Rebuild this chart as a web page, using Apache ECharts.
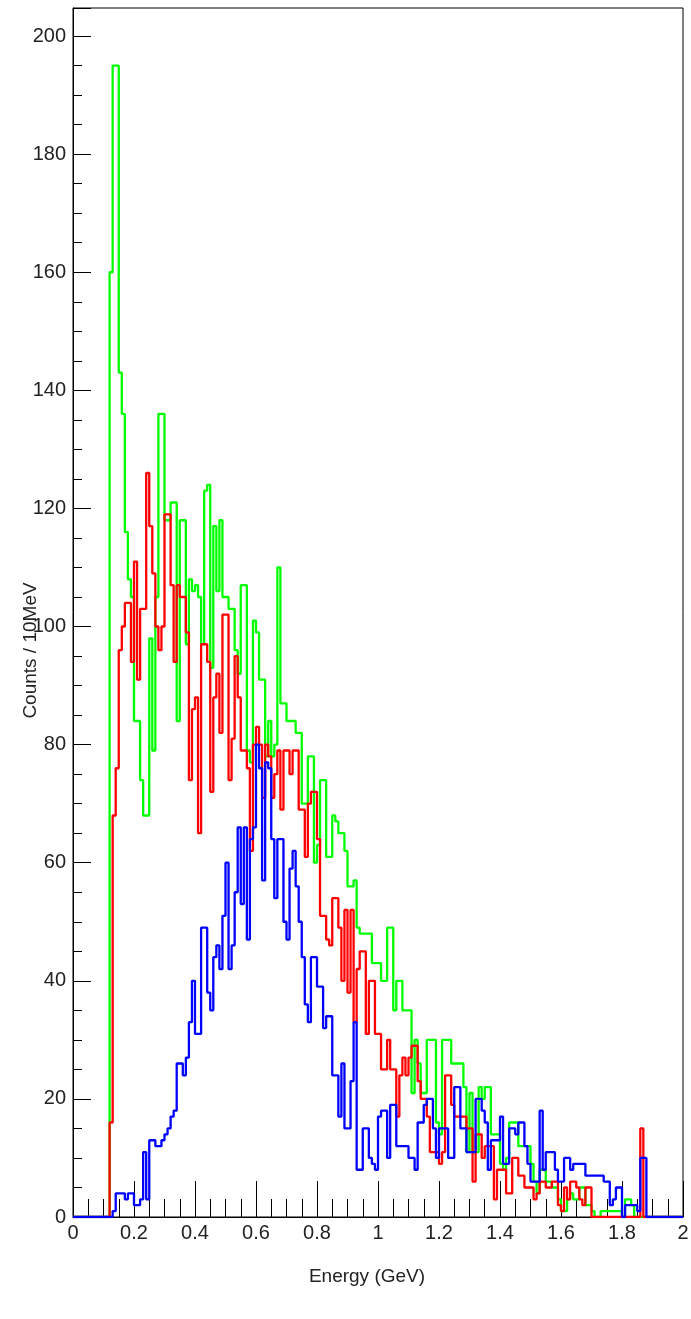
<!DOCTYPE html>
<html lang="en">
<head>
<meta charset="utf-8">
<title>energy</title>
<script src="https://cdn.jsdelivr.net/npm/echarts@6/dist/echarts.min.js"></script>
<style>
html,body{margin:0;padding:0;background:#fff;}
#chart{width:691px;height:1319px;}
</style>
</head>
<body>
<div id="chart"></div>
<script>
// 200 bins of 10 MeV from 0 to 2 GeV
var binWidth = 0.01;

var green = [
    0,0,0,0,0,0,0,0,0,0,0,0,
    160,195,195,143,136,116,108,105,
    84,84,74,68,68,98,79,105,136,136,
    118,118,121,121,84,118,118,97,108,106,
    107,105,97,123,124,93,117,106,118,105,
    105,103,103,96,92,107,107,79,77,101,
    99,91,91,78,84,78,80,110,87,87,
    84,84,84,82,82,70,70,78,78,60,
    63,74,74,61,61,68,67,65,65,62,
    56,56,57,49,48,48,48,48,43,43,
    43,40,40,49,49,35,40,40,35,35,
    35,21,30,26,21,21,30,30,30,16,
    14,30,30,30,26,26,26,26,22,11,
    21,11,11,22,20,22,22,14,14,14,
    9,8,10,16,16,16,12,12,12,12,
    9,6,4,8,8,6,6,5,5,3,
    1,1,3,4,3,3,5,5,2,2,
    1,0,0,1,1,1,1,1,1,1,
    0,3,3,2,0,0,0,0,0,0,
    0,0,0,0,0,0,0,0,0,0
];

var red = [
    0,0,0,0,0,0,0,0,0,0,0,0,
    16,68,76,96,100,104,104,94,
    111,91,103,103,126,117,109,100,96,100,
    119,119,107,94,107,105,105,99,74,86,
    88,65,97,97,94,72,88,92,82,102,
    102,74,81,95,88,79,79,76,62,80,
    83,80,71,80,78,71,75,79,69,79,
    79,75,79,79,69,69,61,70,72,72,
    64,51,51,47,46,54,54,49,40,52,
    38,52,33,42,45,45,31,40,40,31,
    31,25,25,30,25,25,17,24,27,24,
    27,29,29,23,20,20,17,11,11,11,
    9,11,24,24,19,17,17,17,17,15,
    15,6,14,14,10,12,12,12,3,8,
    8,8,4,4,10,10,7,7,5,5,
    5,3,4,6,6,5,5,6,6,2,
    1,5,3,6,6,5,3,2,5,5,
    0,0,0,0,0,0,0,0,0,0,
    0,0,0,0,0,0,15,0,0,0,
    0,0,0,0,0,0,0,0,0,0
];

var blue = [
    0,0,0,0,0,0,0,0,0,0,0,0,0,
    1,4,4,4,3,4,4,
    2,2,3,11,3,13,13,12,12,13,
    14,15,17,18,26,26,24,27,33,40,
    31,31,49,49,38,35,44,46,42,51,
    60,42,46,55,66,53,66,47,64,66,
    80,76,57,77,76,64,54,64,64,50,
    47,59,62,56,50,44,36,33,44,44,
    39,39,32,34,34,24,24,17,26,15,
    15,23,33,8,8,15,15,10,9,8,
    17,18,18,10,19,19,12,12,12,12,
    10,10,8,16,16,19,20,20,15,10,
    15,15,15,10,10,22,22,15,15,11,
    11,11,20,20,18,16,8,13,13,13,
    17,9,9,15,15,14,16,16,12,9,
    6,6,6,18,8,11,11,11,8,6,
    6,10,10,8,9,9,9,9,7,7,
    7,7,7,7,6,6,2,3,5,5,
    0,2,2,2,2,1,10,10,0,0,
    0,0,0,0,0,0,0,0,0,0
];

var seriesNames = ['green', 'red', 'blue'];
var seriesColors = ['#00ff00', '#ff0000', '#0000ff'];

var yMax = 204.75;
var font = 'Liberation Sans, Arial, Helvetica, sans-serif';

// histogram bins -> step points at the bin edges
function toSteps(vals) {
    var pts = [];
    for (var i = 0; i < vals.length; i++) {
        pts.push([+(i * binWidth).toFixed(2), vals[i]]);
    }
    pts.push([+(vals.length * binWidth).toFixed(2), vals[vals.length - 1]]);
    return pts;
}

var chart = echarts.init(document.getElementById('chart'));
chart.setOption({
    animation: false,
    backgroundColor: '#fff',
    grid: {
        left: 73, right: 8, top: 8, bottom: 102,
        outerBoundsMode: 'none',
        containLabel: false,
        show: true, borderColor: '#000', borderWidth: 1
    },
    xAxis: {
        type: 'value',
        min: 0,
        max: 2,
        interval: 0.2,
        name: 'Energy (GeV)',
        nameLocation: 'middle',
        nameGap: 50,
        nameMoveOverlap: false,
        nameTextStyle: { fontSize: 19, color: '#222', fontFamily: font, padding: [0, 22, 0, 0] },
        axisLine: { lineStyle: { color: '#000', width: 1 } },
        axisTick: { inside: true, length: 36, lineStyle: { color: '#000', width: 1 } },
        minorTick: { show: true, splitNumber: 4, length: 18, lineStyle: { color: '#000', width: 1 } },
        splitLine: { show: false },
        axisLabel: { fontSize: 20, color: '#222', fontFamily: font, margin: 6 }
    },
    yAxis: [{
        type: 'value',
        min: 0,
        max: yMax,
        interval: 20,
        name: 'Counts / 10MeV',
        nameLocation: 'middle',
        nameGap: 33,
        nameMoveOverlap: false,
        nameTextStyle: { fontSize: 19, color: '#222', fontFamily: font, padding: [0, 76, 0, 0] },
        axisLine: { lineStyle: { color: '#000', width: 1 } },
        axisTick: { inside: true, length: 18, lineStyle: { color: '#000', width: 1 } },
        splitLine: { show: false },
        axisLabel: {
            fontSize: 20, color: '#222', fontFamily: font, margin: 7,
            formatter: function (v) { return v % 20 === 0 ? String(v) : ''; }
        }
    }, {
        // minor ticks every 5 counts
        type: 'value',
        position: 'left',
        min: 0,
        max: yMax,
        interval: 5,
        axisLine: { show: false },
        axisTick: { inside: true, length: 9, lineStyle: { color: '#000', width: 1 } },
        splitLine: { show: false },
        axisLabel: { show: false }
    }],
    series: seriesNames.map(function (name, k) {
        var vals = [green, red, blue][k];
        return {
            name: name,
            type: 'line',
            step: 'end',
            yAxisIndex: 0,
            symbol: 'none',
            data: toSteps(vals),
            lineStyle: { color: seriesColors[k], width: 2.3 },
            itemStyle: { color: seriesColors[k] }
        };
    })
});
</script>
</body>
</html>
